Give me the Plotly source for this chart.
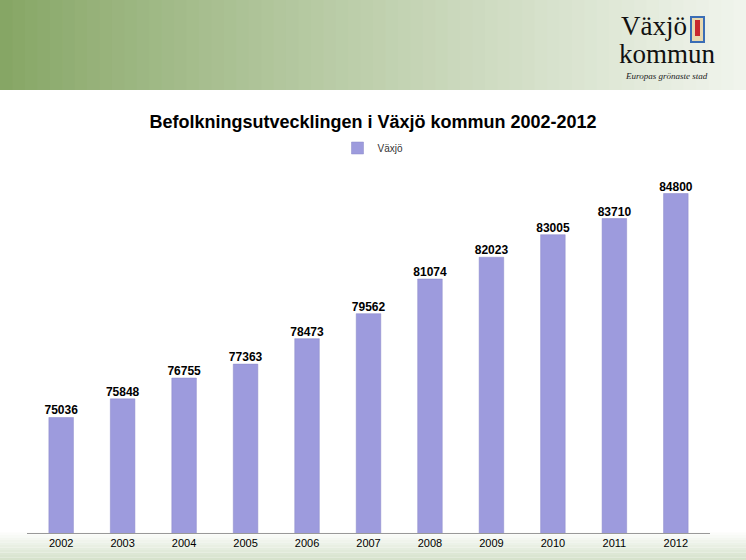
import plotly.graph_objects as go

years = ["2002","2003","2004","2005","2006","2007","2008","2009","2010","2011","2012"]
population = [75036, 75848, 76755, 77363, 78473, 79562, 81074, 82023, 83005, 83710, 84800]

W, H = 746, 560
fig = go.Figure()
fig.add_trace(go.Bar(x=years, y=population, name="Växjö", marker=dict(color="#9d9bdd", line=dict(color="#8a88c8", width=0.5))))
fig.add_trace(go.Scatter(x=years, y=population, mode="text", text=["<b>%d</b>" % v for v in population],
                         textposition="top center", showlegend=False, hoverinfo="skip", cliponaxis=False,
                         textfont=dict(family="Liberation Sans, Arial", size=12, color="black")))

def lerp(c1, c2, t):
    return "rgb(%d,%d,%d)" % tuple(round(a + (b - a) * t) for a, b in zip(c1, c2))

shapes = []
n = 60
c1, c2 = (134, 166, 101), (240, 244, 236)
for i in range(n):
    t = i / (n - 1)
    shapes.append(dict(type="rect", xref="paper", yref="paper", x0=i / n, x1=(i + 1) / n + 0.002,
                       y0=1 - 90 / H, y1=1, fillcolor=lerp(c1, c2, t ** 0.9), line=dict(width=0), layer="below"))
m = 12
for i in range(m):
    t = i / (m - 1)
    shapes.append(dict(type="rect", xref="paper", yref="paper", x0=0, x1=1,
                       y0=(30 - (i + 1) * 30 / m) / H, y1=(30 - i * 30 / m) / H,
                       fillcolor=lerp((255, 255, 255), (214, 226, 204), t), line=dict(width=0), layer="below"))
shapes.append(dict(type="rect", xref="paper", yref="paper", x0=691 / W, x1=704 / W, y0=1 - 42 / H, y1=1 - 17 / H,
                   fillcolor="#e8d9b0", line=dict(color="#3a6db5", width=2)))
shapes.append(dict(type="rect", xref="paper", yref="paper", x0=695 / W, x1=700 / W, y0=1 - 36 / H, y1=1 - 20 / H,
                   fillcolor="#c8272e", line=dict(width=0)))

fig.update_layout(
    width=W, height=H, margin=dict(l=0, r=0, t=0, b=0),
    paper_bgcolor="white", plot_bgcolor="rgba(0,0,0,0)",
    shapes=shapes,
    title=dict(text="<b>Befolkningsutvecklingen i Växjö kommun 2002-2012</b>", x=0.5, xanchor="center",
               y=1 - 122 / H, yanchor="middle", font=dict(family="Liberation Sans, Arial", size=18, color="black")),
    showlegend=True,
    legend=dict(orientation="h", x=0.5, xanchor="center", y=1 - 148 / H, yanchor="middle",
                font=dict(family="Liberation Sans, Arial", size=10, color="#333"), bgcolor="rgba(0,0,0,0)"),
    bargap=0.6,
    xaxis=dict(domain=[27 / W, 710 / W], showline=True, linecolor="#999", ticks="", showgrid=False,
               tickfont=dict(family="Liberation Sans, Arial", size=11, color="black")),
    yaxis=dict(domain=[27 / H, 1 - 166 / H], range=[70000, 86000], visible=False),
    annotations=[
        dict(text="Växjö", xref="paper", yref="paper", x=619 / W, y=1 - 26 / H, xanchor="left", yanchor="middle",
             showarrow=False, font=dict(family="Liberation Serif, Times New Roman", size=27, color="#111")),
        dict(text="kommun", xref="paper", yref="paper", x=617 / W, y=1 - 54 / H, xanchor="left", yanchor="middle",
             showarrow=False, font=dict(family="Liberation Serif, Times New Roman", size=27, color="#111")),
        dict(text="<i>Europas grönaste stad</i>", xref="paper", yref="paper", x=666 / W, y=1 - 76 / H, xanchor="center",
             yanchor="middle", showarrow=False, font=dict(family="Liberation Serif, Times New Roman", size=9, color="#222")),
    ],
)
fig.write_html("out.html", config={"displayModeBar": False},
               post_script="document.body.style.margin='0';document.body.style.overflow='hidden';")
